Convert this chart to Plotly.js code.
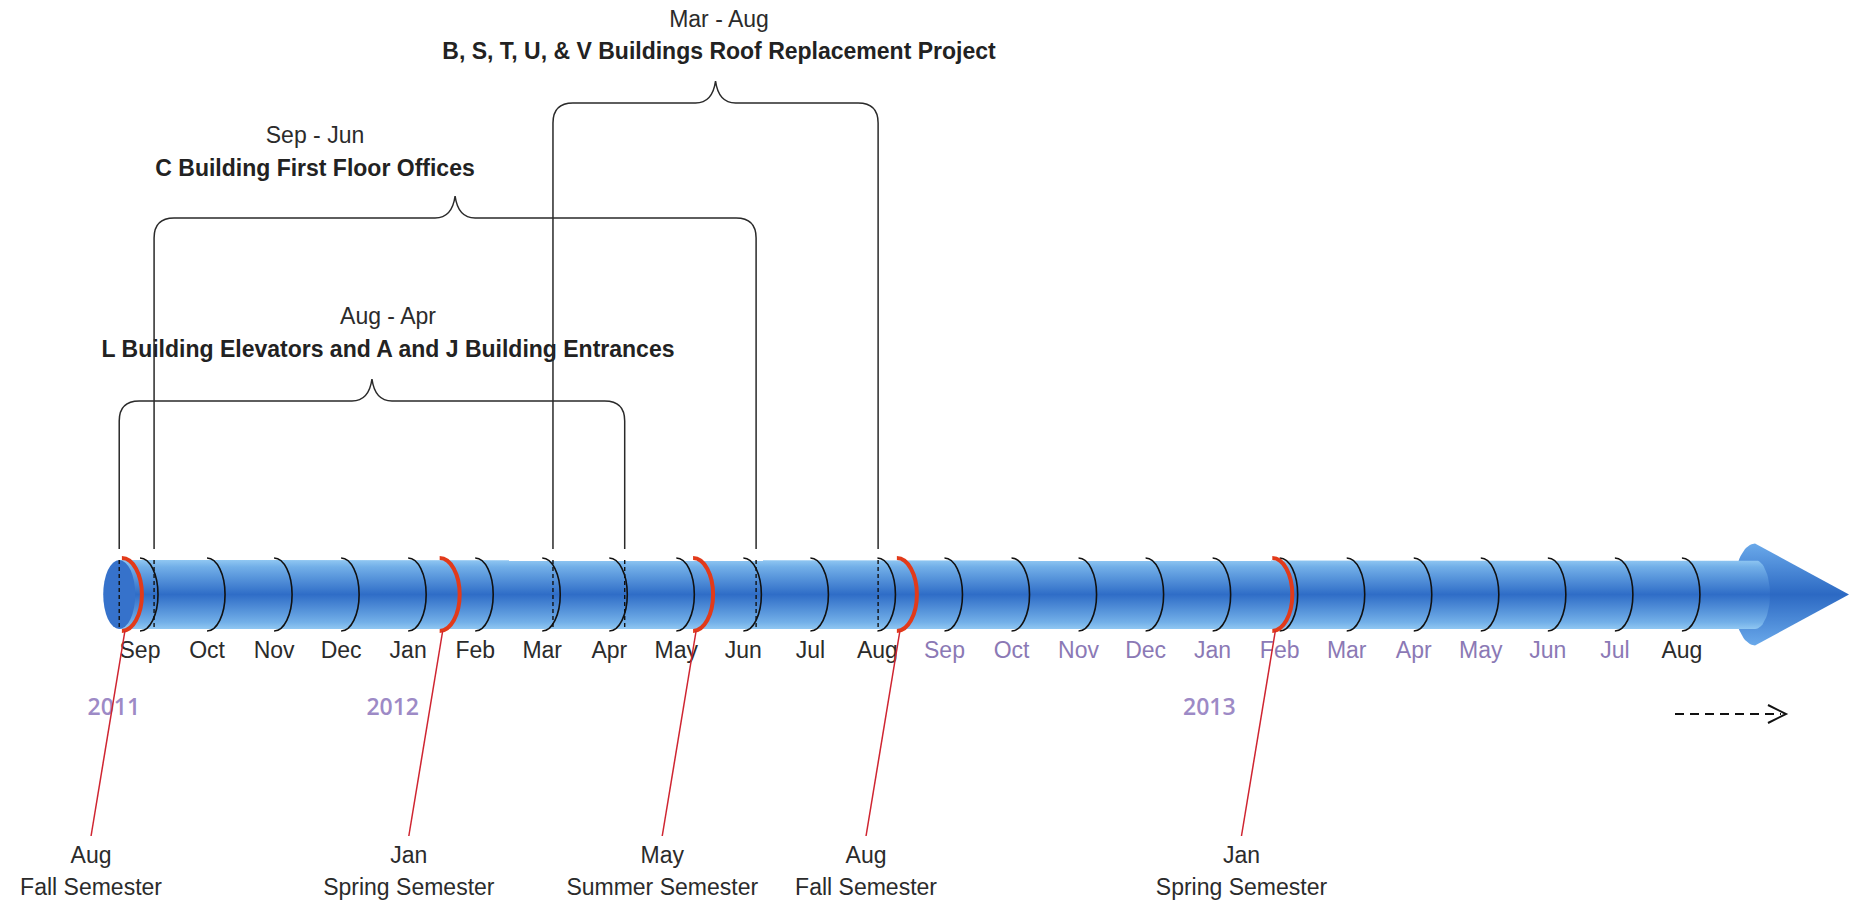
<!DOCTYPE html>
<html><head><meta charset="utf-8">
<script src="https://cdn.plot.ly/plotly-3.0.1.min.js"></script>
<style>html,body{margin:0;padding:0;background:#fff;overflow:hidden}#chart{width:1849px;height:906px}</style>
</head><body><div id="chart"></div>
<script>
// ---------------- data ----------------
// month slots: 1 = Sep 2011 ... 24 = Aug 2013
const monthLabels = ['Sep','Oct','Nov','Dec','Jan','Feb','Mar','Apr','May','Jun','Jul','Aug',
                     'Sep','Oct','Nov','Dec','Jan','Feb','Mar','Apr','May','Jun','Jul','Aug'];
const monthSlots  = [1,2,3,4,5,6,7,8,9,10,11,12,13,14,15,16,17,18,19,20,21,22,23,24];
const monthYears  = [2011,2011,2011,2011,2012,2012,2012,2012,2012,2012,2012,2012,
                     2012,2012,2012,2012,2013,2013,2013,2013,2013,2013,2013,2013];

const yearLabels = ['2011','2012','2013'];
const yearPos    = [0.61, 4.77, 16.95];

const semesterMonths = ['Aug','Jan','May','Aug','Jan'];
const semesterNames  = ['Fall Semester','Spring Semester','Summer Semester','Fall Semester','Spring Semester'];
const semesterPos    = [0.73, 5.47, 9.25, 12.29, 17.89];

const projectNames = ['L Building Elevators and A and J Building Entrances',
                      'C Building First Floor Offices',
                      'B, S, T, U, & V Buildings Roof Replacement Project'];
const projectSpans = ['Aug - Apr','Sep - Jun','Mar - Aug'];
const projectStart = [0.69, 1.21, 7.16];
const projectEnd   = [8.23, 10.19, 12.01];

const timelineStart = 0.69;
const timelineEnd   = 25.09;

// ---------------- layout helpers ----------------
const W = 1849, H = 906;
const PPM = 67.04, M1_PX = 140;
const toM = px => (px - M1_PX) / PPM + 1;
const dm  = px => px / PPM;
const TOP = 560, BOT = 629, CY = (TOP + BOT) / 2, RB = (BOT - TOP) / 2;
const K = 0.5523;

const bracketLevel = [401, 218, 103];
const spanLabelY   = [318, 137, 21];
const nameLabelY   = [351, 170, 53];
const labelAnchor  = [toM(388), toM(315), toM(719)];
const FONT = 'Liberation Sans, Arial, sans-serif';
const FS = 23;

function halfArc(m, aPx, yTop, yBot) {
  const a = dm(aPx), c = (yTop + yBot) / 2, b = (yBot - yTop) / 2;
  return `M ${m},${yTop} C ${m + K*a},${yTop} ${m + a},${c - K*b} ${m + a},${c} ` +
         `C ${m + a},${c + K*b} ${m + K*a},${yBot} ${m},${yBot}`;
}
function bracket(s, e, t) {
  const yb = 549, rx = dm(20), ry = 20, p = (s + e) / 2, w = dm(20), h = 22;
  return `M ${s},${yb} L ${s},${t + ry} Q ${s},${t} ${s + rx},${t} L ${p - w},${t} ` +
         `Q ${p - w*0.15},${t} ${p},${t - h} Q ${p + w*0.15},${t} ${p + w},${t} ` +
         `L ${e - rx},${t} Q ${e},${t} ${e},${t + ry} L ${e},${yb}`;
}

// ---------------- traces ----------------
const traces = [];

// arrow collar + cone
(function () {
  const x = [], y = [], a = dm(22), b = 51;
  for (let i = 0; i <= 40; i++) {
    const t = -Math.PI/2 - Math.PI * i / 40;
    x.push(timelineEnd + a * Math.cos(t)); y.push(CY + b * Math.sin(t));
  }
  x.push(timelineEnd + dm(94)); y.push(CY);
  x.push(timelineEnd); y.push(CY - b);
  traces.push({type:'scatter', mode:'lines', x, y, fill:'toself',
    line:{width:0, color:'rgba(0,0,0,0)'}, fillcolor:'#3f7fd4',
    fillgradient:{type:'vertical', colorscale:[[0,'#6aa9ea'],[0.5,'#2c69c3'],[1,'#6aa9ea']]},
    hoverinfo:'skip', showlegend:false});
})();

// cylinder body
(function () {
  const x = [timelineStart, timelineEnd], y = [TOP, TOP];
  for (let i = 0; i <= 30; i++) {
    const t = -Math.PI/2 + Math.PI * i / 30;
    x.push(timelineEnd + dm(15) * Math.cos(t)); y.push(CY + RB * Math.sin(t));
  }
  x.push(timelineStart); y.push(BOT);
  x.push(timelineStart); y.push(TOP);
  traces.push({type:'scatter', mode:'lines', x, y, fill:'toself',
    line:{width:0, color:'rgba(0,0,0,0)'}, fillcolor:'#4a88d8',
    fillgradient:{type:'vertical', colorscale:[[0,'#90c7f2'],[0.1,'#72afe8'],[0.5,'#2f6dc7'],[0.9,'#72afe8'],[1,'#90c7f2']]},
    hoverinfo:'skip', showlegend:false});
})();

const txt = (x, y, text, font) => ({type:'scatter', mode:'text', x, y, text,
  textposition:'middle center', textfont:font, hoverinfo:'skip', showlegend:false, cliponaxis:false});

// month labels
traces.push(txt(monthSlots, monthSlots.map(() => 652), monthLabels, {
  family:FONT, size:FS,
  color: monthSlots.map((s, i) => (s >= 13 && s <= 23) ? '#8b79b5' : '#2b2b2b')}));
// year labels
traces.push(txt(yearPos, yearPos.map(() => 709), yearLabels, {
  family:'Open Sans, sans-serif', size:23, weight:600, color:'#9d8ac6'}));
// semester labels
const semLabelX = semesterPos.map(p => p - 0.46);
traces.push(txt(semLabelX, semLabelX.map(() => 857), semesterMonths, {
  family:FONT, size:FS, color:'#2b2b2b'}));
traces.push(txt(semLabelX, semLabelX.map(() => 889), semesterNames, {
  family:FONT, size:FS, color:'#2b2b2b'}));
// project labels
traces.push(txt(labelAnchor, spanLabelY, projectSpans, {
  family:FONT, size:FS, color:'#2b2b2b'}));
traces.push(txt(labelAnchor, nameLabelY, projectNames, {
  family:FONT, size:FS, weight:'bold', color:'#222'}));

// ---------------- shapes ----------------
const shapes = [];
// left cap
shapes.push({type:'circle', xref:'x', yref:'y', x0:timelineStart - dm(16), x1:timelineStart + dm(16),
  y0:TOP, y1:BOT, fillcolor:'#3672cb', line:{width:0}});
// month arcs
monthSlots.forEach(m => shapes.push({type:'path', xref:'x', yref:'y',
  path: halfArc(m, 18, TOP - 2, BOT + 2), line:{color:'#111', width:1.6}}));
// dashed project boundaries through the cylinder
projectStart.concat(projectEnd).forEach(m => shapes.push({type:'line', xref:'x', yref:'y',
  x0:m, x1:m, y0:TOP, y1:BOT, line:{color:'#111', width:1.4, dash:'4px,3px'}}));
// semester red arcs + leaders
semesterPos.forEach((m, i) => {
  shapes.push({type:'path', xref:'x', yref:'y', path: halfArc(m, 20, TOP - 2, BOT + 2),
    line:{color:'#e23a1a', width:4}});
  shapes.push({type:'line', xref:'x', yref:'y', x0:m + dm(3), y0:BOT + 2, x1:semLabelX[i], y1:836,
    line:{color:'#cf2430', width:1.5}});
});
// project brackets
projectStart.forEach((s, i) => shapes.push({type:'path', xref:'x', yref:'y',
  path: bracket(s, projectEnd[i], bracketLevel[i]), line:{color:'#2a2a2a', width:1.5}}));
// dashed "continues" arrow
shapes.push({type:'line', xref:'x', yref:'y', x0:toM(1675), x1:toM(1781), y0:714, y1:714,
  line:{color:'#111', width:2, dash:'9px,6px'}});
shapes.push({type:'path', xref:'x', yref:'y',
  path:`M ${toM(1768)},705 L ${toM(1786)},714 L ${toM(1768)},723`, line:{color:'#111', width:2}});

const layout = {
  width:W, height:H, margin:{l:0, r:0, t:0, b:0},
  paper_bgcolor:'#fff', plot_bgcolor:'#fff',
  xaxis:{range:[toM(0), toM(W)], visible:false, fixedrange:true},
  yaxis:{range:[H, 0], visible:false, fixedrange:true},
  shapes, showlegend:false, hovermode:false
};
Plotly.newPlot('chart', traces, layout, {staticPlot:true, displayModeBar:false});
</script></body></html>
